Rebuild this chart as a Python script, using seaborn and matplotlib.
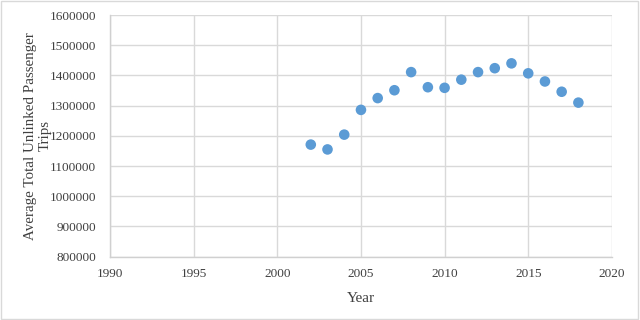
"""Average total unlinked passenger trips per year (scatter)."""

import matplotlib
matplotlib.use("Agg")
import matplotlib.pyplot as plt
import pandas as pd
import seaborn as sns

years = [2002, 2003, 2004, 2005, 2006, 2007, 2008, 2009, 2010,
         2011, 2012, 2013, 2014, 2015, 2016, 2017, 2018]
avg_trips = [1171000, 1155000, 1204000, 1286000, 1325000, 1351000, 1411000,
             1361000, 1359000, 1386000, 1411000, 1424000, 1440000, 1407000,
             1380000, 1346000, 1310000]

x_ticks = [1990, 1995, 2000, 2005, 2010, 2015, 2020]
y_ticks = [800000, 900000, 1000000, 1100000, 1200000, 1300000, 1400000, 1500000, 1600000]

df = pd.DataFrame({'Year': years, 'Trips': avg_trips})

sns.set_style('white')
plt.rcParams['font.family'] = ['Liberation Serif', 'DejaVu Serif']

fig = plt.figure(figsize=(6.4, 3.2), dpi=100)
ax = fig.add_axes([0.172, 0.198, 0.784, 0.755])

sns.scatterplot(data=df, x='Year', y='Trips', ax=ax, color='#5B9BD5',
                s=58, edgecolor='none', zorder=3)

ax.set_xlim(1990, 2020)
ax.set_ylim(800000, 1600000)
ax.set_xticks(x_ticks)
ax.set_yticks(y_ticks)
ax.set_xticklabels([str(t) for t in x_ticks], fontsize=9.5, color='#404040')
ax.set_yticklabels([str(t) for t in y_ticks], fontsize=9.5, color='#404040')
ax.tick_params(axis='y', length=0, pad=10)
ax.tick_params(axis='x', length=0, pad=8)

ax.grid(True, color='#D9D9D9', linewidth=1)
for side in ['top', 'right']:
    ax.spines[side].set_visible(False)
for side in ['left', 'bottom']:
    ax.spines[side].set_color('#D0D0D0')
    ax.spines[side].set_linewidth(1)

ax.set_xlabel('Year', fontsize=11, color='#404040', labelpad=9)
ax.set_ylabel('Average Total Unlinked Passenger\nTrips', fontsize=10.8,
              color='#404040', linespacing=1.15)
ax.yaxis.set_label_coords(-0.116, 0.5)

# light frame around the whole chart
fig.patches.append(plt.Rectangle((0.002, 0.004), 0.995, 0.992, transform=fig.transFigure,
                                 fill=False, edgecolor='#D9D9D9', linewidth=1))

fig.savefig('out.png', dpi=100)
